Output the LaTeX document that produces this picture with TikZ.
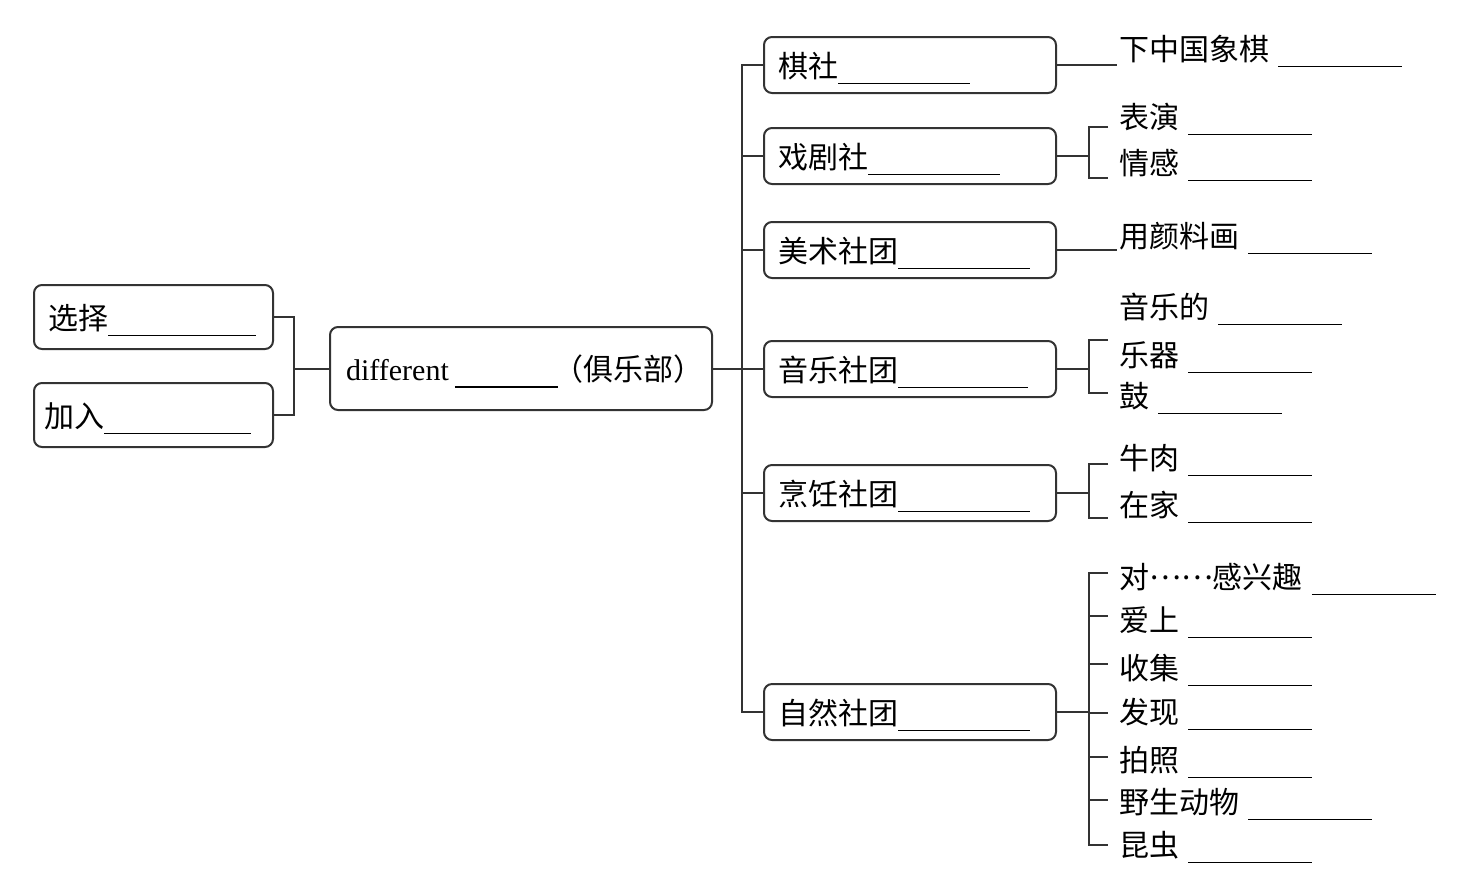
\documentclass[tikz,border=0pt]{standalone}
\usepackage{fontspec}
\setmainfont{Liberation Serif}
\newfontfamily\cjk{Noto Sans CJK SC}
\newcommand{\fillin}[1]{\rule[-3.5pt]{#1}{0.6pt}}
\tikzstyle{block} = [draw=black!80, line width=1pt, rounded corners=4pt,
    anchor=north west, align=left, inner xsep=7pt, text height=13pt, text depth=1pt]
\tikzstyle{small} = [block, text width=105.5pt, minimum height=32pt]
\tikzstyle{club} = [block, text width=132pt, minimum height=28pt]
\tikzstyle{leaf} = [anchor=base west, inner sep=1pt]
\tikzstyle{link} = [draw=black!80, line width=1pt]

\begin{document}
\begin{tikzpicture}[x=0.5pt, y=-0.5pt, font=\cjk\fontsize{15}{18}\selectfont]
    \useasboundingbox (0,0) rectangle (1465,874);
    % We start by placing the blocks
    \node [small] (choose) at (33,284) {选择\fillin{74pt}};
    \node [small, inner xsep=5pt, text width=109.5pt] (join) at (33,382) {加入\fillin{73.5pt}};
    \node [block, inner xsep=2pt, minimum width=191pt, minimum height=41.5pt] (club) at (329,326)
        {\hspace{4pt}{\rmfamily different}\hspace{3pt}\fillin{51.5pt}\hspace{-2pt}（俱乐部）};
    \node [club] (qi) at (763,36) {棋社\fillin{66pt}};
    \node [club] (drama) at (763,127) {戏剧社\fillin{66pt}};
    \node [club] (art) at (763,221) {美术社团\fillin{66pt}};
    \node [club] (music) at (763,340) {音乐社团\fillin{65pt}};
    \node [club] (cook) at (763,464) {烹饪社团\fillin{66pt}};
    \node [club] (nature) at (763,683) {自然社团\fillin{66pt}};
    % Then the words on the right
    \node [leaf] (chess) at (1117,60) {下中国象棋\hspace{4.5pt}\fillin{62pt}};
    \node [leaf] (act) at (1117,128) {表演\hspace{4.5pt}\fillin{62pt}};
    \node [leaf] (feel) at (1117,174) {情感\hspace{4.5pt}\fillin{62pt}};
    \node [leaf] (paint) at (1117,247) {用颜料画\hspace{4.5pt}\fillin{62pt}};
    \node [leaf] (musical) at (1117,318) {音乐的\hspace{4.5pt}\fillin{62pt}};
    \node [leaf] (instr) at (1117,366) {乐器\hspace{4.5pt}\fillin{62pt}};
    \node [leaf] (drum) at (1117,407) {鼓\hspace{4.5pt}\fillin{62pt}};
    \node [leaf] (beef) at (1117,469) {牛肉\hspace{4.5pt}\fillin{62pt}};
    \node [leaf] (home) at (1117,516) {在家\hspace{4.5pt}\fillin{62pt}};
    \node [leaf] (interest) at (1117,588) {对\raisebox{0.3em}{……}感兴趣\hspace{4.5pt}\fillin{62pt}};
    \node [leaf] (love) at (1117,631) {爱上\hspace{4.5pt}\fillin{62pt}};
    \node [leaf] (collect) at (1117,679) {收集\hspace{4.5pt}\fillin{62pt}};
    \node [leaf] (find) at (1117,723) {发现\hspace{4.5pt}\fillin{62pt}};
    \node [leaf] (photo) at (1117,771) {拍照\hspace{4.5pt}\fillin{62pt}};
    \node [leaf] (wild) at (1117,813) {野生动物\hspace{4.5pt}\fillin{62pt}};
    \node [leaf] (insect) at (1117,856) {昆虫\hspace{4.5pt}\fillin{62pt}};
    % Left bracket into the club box
    \coordinate (lj) at ([xshift=10pt]choose.east |- club.west);
    \draw [link] (choose.east) -| (lj) |- (join.east);
    \draw [link] (lj) -- (club.west);
    % The trunk to all the clubs
    \draw [link] (club.east) -- ++(14.5pt,0) coordinate (hub);
    \draw [link] (qi.west) -| (hub |- nature.west) -- (nature.west);
    \foreach \b in {drama,art,music,cook}
        \draw [link] (hub |- \b.west) -- (\b.west);
    % Brackets on the right
    \draw [link] (qi.east) -- (qi.east -| chess.west);
    \draw [link] (art.east) -- (art.east -| paint.west);
    \draw [link] (drama.east) -- ++(16pt,0) coordinate (dj);
    \coordinate (d1) at (1108,127);
    \coordinate (d2) at (1108,178);
    \draw [link] (d1) -| (dj) |- (d2);
    \draw [link] (music.east) -- ++(16pt,0) coordinate (mj);
    \coordinate (m1) at (1108,340);
    \coordinate (m2) at (1108,393);
    \draw [link] (m1) -| (mj) |- (m2);
    \draw [link] (cook.east) -- ++(16pt,0) coordinate (cj);
    \coordinate (c1) at (1108,464);
    \coordinate (c2) at (1108,518);
    \draw [link] (c1) -| (cj) |- (c2);
    \draw [link] (nature.east) -- ++(16pt,0) coordinate (nj);
    \foreach \y [count=\i] in {573,616,664,713,757,800,845}
        \coordinate (n\i) at (1108,\y);
    \draw [link] (n1) -| (nj |- n7) -- (n7);
    \foreach \i in {2,...,6}
        \draw [link] (nj |- n\i) -- (n\i);
\end{tikzpicture}
\end{document}
